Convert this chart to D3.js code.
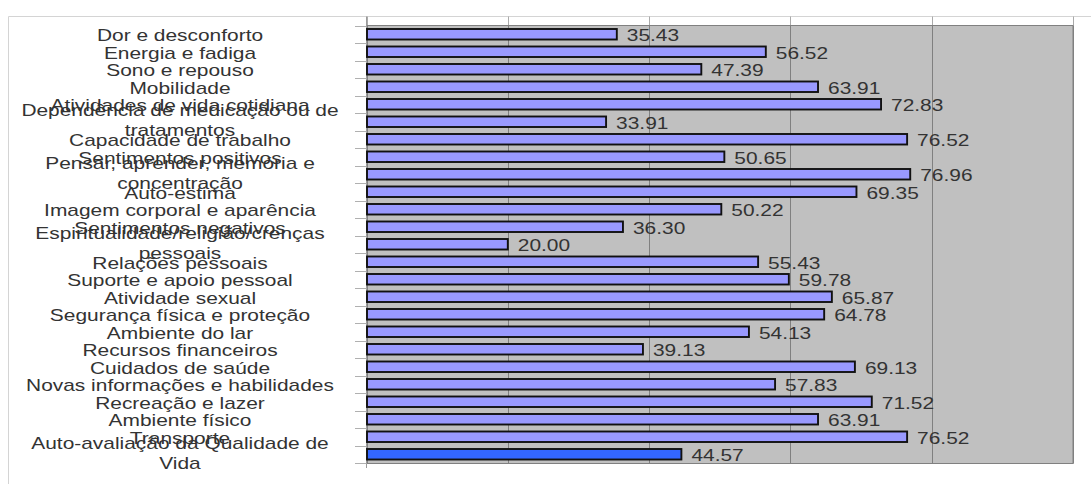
<!DOCTYPE html>
<html>
<head>
<meta charset="utf-8">
<script src="https://cdn.jsdelivr.net/npm/d3@7"></script>
<style>
  html, body { margin: 0; padding: 0; background: #ffffff; }
  svg { display: block; }
  text { font-family: "Liberation Sans", Arial, sans-serif; fill: #333333; }
</style>
</head>
<body>
<svg id="chart" width="1091" height="484"></svg>
<script>
const categories = [
  "Dor e desconforto",
  "Energia e fadiga",
  "Sono e repouso",
  "Mobilidade",
  "Atividades de vida cotidiana",
  "Dependência de medicação ou de\ntratamentos",
  "Capacidade de trabalho",
  "Sentimentos positivos",
  "Pensar, aprender, memória e\nconcentração",
  "Auto-estima",
  "Imagem corporal e aparência",
  "Sentimentos negativos",
  "Espiritualidade/religião/crenças\npessoais",
  "Relações pessoais",
  "Suporte e apoio pessoal",
  "Atividade sexual",
  "Segurança física e proteção",
  "Ambiente do lar",
  "Recursos financeiros",
  "Cuidados de saúde",
  "Novas informações e habilidades",
  "Recreação e lazer",
  "Ambiente físico",
  "Transporte",
  "Auto-avaliação da Qualidade de\nVida"
];
const values = [35.43, 56.52, 47.39, 63.91, 72.83, 33.91, 76.52, 50.65, 76.96, 69.35,
  50.22, 36.30, 20.00, 55.43, 59.78, 65.87, 64.78, 54.13, 39.13, 69.13,
  57.83, 71.52, 63.91, 76.52, 44.57];
const highlighted = ["Auto-avaliação da Qualidade de\nVida"];
const xTicks = [0, 20, 40, 60, 80, 100];

const svg = d3.select("#chart");
const plotL = 366.5, plotR = 1073, plotT = 25.5, plotB = 463.5;
const frameT = 16.5, frameL = 8.5;
const sx = 1.23; // horizontal text stretch
const fontSize = 17;

const x = d3.scaleLinear().domain([0, 100]).range([plotL, plotR]);
const y = d3.scaleBand().domain(categories).range([plotT, 463]).padding(0);

// outer frame
svg.append("line").attr("x1", frameL).attr("x2", 1091).attr("y1", frameT).attr("y2", frameT)
  .attr("stroke", "#d4d4d4").attr("stroke-width", 1);
svg.append("line").attr("x1", frameL).attr("x2", frameL).attr("y1", frameT).attr("y2", 484)
  .attr("stroke", "#d4d4d4").attr("stroke-width", 1);

// plot background
svg.append("rect").attr("x", plotL).attr("y", plotT)
  .attr("width", plotR - plotL).attr("height", plotB - plotT)
  .attr("fill", "#c0c0c0");

// gridlines (extend above plot to frame)
svg.append("g").selectAll("line").data(xTicks).join("line")
  .attr("x1", d => Math.round(x(d)) + 0.5).attr("x2", d => Math.round(x(d)) + 0.5)
  .attr("y1", frameT).attr("y2", plotT)
  .attr("stroke", "#aaaaaa").attr("stroke-width", 1);
svg.append("g").selectAll("line").data(xTicks).join("line")
  .attr("x1", d => Math.round(x(d)) + 0.5).attr("x2", d => Math.round(x(d)) + 0.5)
  .attr("y1", plotT).attr("y2", plotB)
  .attr("stroke", "#808080").attr("stroke-width", 1);

// plot border
svg.append("rect").attr("x", plotL).attr("y", plotT)
  .attr("width", plotR - plotL).attr("height", plotB - plotT)
  .attr("fill", "none").attr("stroke", "#808080").attr("stroke-width", 1);

// y axis with ticks at band boundaries
const yAxisG = svg.append("g");
yAxisG.append("line").attr("x1", plotL).attr("x2", plotL).attr("y1", frameT).attr("y2", 468)
  .attr("stroke", "#9a9a9a");
const bounds = categories.map(c => y(c)).concat([y(categories[categories.length - 1]) + y.bandwidth()]);
yAxisG.selectAll("line.tk").data(bounds).join("line").attr("class", "tk")
  .attr("x1", 355).attr("x2", plotL)
  .attr("y1", d => Math.round(d) + 0.5).attr("y2", d => Math.round(d) + 0.5)
  .attr("stroke", "#b0b0b0");

// bars
const bh = y.bandwidth() * 0.6;
svg.append("g").selectAll("rect").data(categories).join("rect")
  .attr("x", x(0) + 0.5)
  .attr("y", c => y(c) + (y.bandwidth() - bh) / 2)
  .attr("width", (c, i) => x(values[i]) - x(0) - 0.5)
  .attr("height", bh)
  .attr("fill", c => highlighted.includes(c) ? "#3366ff" : "#9999ff")
  .attr("stroke", "#111111").attr("stroke-width", 1.9);

// value labels
svg.append("g").selectAll("text").data(categories).join("text")
  .attr("transform", (c, i) => `translate(${x(values[i]) + 10},${y(c) + y.bandwidth() / 2 + 7}) scale(${sx},1)`)
  .attr("font-size", fontSize)
  .text((c, i) => values[i].toFixed(2));

// category labels
const lblG = svg.append("g");
categories.forEach(c => {
  const lines = c.split("\n");
  const cy = y(c) + y.bandwidth() / 2;
  lines.forEach((ln, j) => {
    const base = lines.length === 1 ? cy + 7 : cy - 5.5 + j * 20;
    lblG.append("text")
      .attr("transform", `translate(180,${base}) scale(${sx},1)`)
      .attr("text-anchor", "middle")
      .attr("font-size", fontSize)
      .text(ln);
  });
});
</script>
</body>
</html>
